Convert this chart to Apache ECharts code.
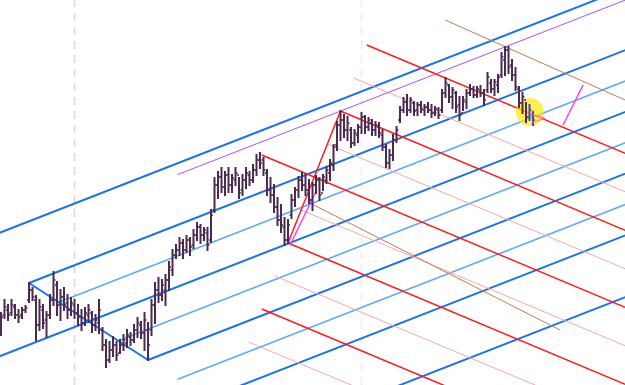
<!DOCTYPE html>
<html><head><meta charset="utf-8">
<script src="https://cdn.jsdelivr.net/npm/echarts@6/dist/echarts.min.js"></script>
<style>html,body{margin:0;padding:0;background:#fff}#c{width:625px;height:385px}</style>
</head><body><div id="c"></div>
<script>
// OHLC bars (bar index = position, prices in chart units)
const opens = [60,70,75,72,78,70,70,75,85,95,85,60,75,65,70,85,100,80,88,82,75,80,72,68,62,70,72,60,62,55,40,25,35,40,32,40,42,48,45,55,60,52,55,55,80,95,90,95,105,115,130,135,142,135,145,140,150,158,150,152,145,175,200,208,198,210,200,205,210,195,205,210,205,215,225,225,212,195,190,178,165,158,145,170,185,195,205,200,195,185,200,205,192,205,212,220,240,260,265,255,255,242,250,258,268,258,262,255,258,250,238,222,230,245,265,275,283,275,282,275,280,275,278,275,272,275,275,292,300,288,292,280,272,283,292,296,290,295,292,295,302,296,300,310,325,335,320,310,296,282,285,268,270];
const closes = [68,78,70,80,70,68,75,77,95,88,60,78,62,70,85,105,80,88,80,75,82,72,68,62,72,75,60,65,75,40,25,35,40,30,40,45,50,45,55,62,52,65,40,80,95,90,100,105,118,130,135,142,135,145,138,150,158,150,155,140,170,200,208,198,210,200,207,212,192,205,212,205,215,225,222,215,195,190,178,165,160,145,160,185,195,205,200,195,185,200,205,190,208,215,222,238,260,265,255,262,242,252,258,268,258,265,255,260,252,238,222,230,245,255,275,283,275,285,274,280,276,278,275,272,276,270,292,302,288,295,278,270,285,292,296,290,296,292,285,308,296,303,308,328,335,318,310,298,282,288,268,275,265];
const lows = [50,67,65,70,67,63,67,73,83,85,45,55,57,48,67,80,70,65,75,67,70,67,60,55,60,63,53,55,52,35,18,23,29,25,32,35,38,40,43,48,47,35,25,50,62,83,85,80,95,110,127,130,127,133,130,137,145,142,145,135,143,173,187,193,190,193,193,200,187,190,197,200,203,210,217,210,190,183,173,160,153,140,142,167,179,188,195,190,182,175,192,185,195,202,205,215,235,245,248,245,238,240,243,252,252,255,250,250,248,235,218,217,225,243,263,273,270,273,270,270,273,270,273,268,270,267,273,288,283,277,273,265,275,277,290,288,288,289,280,293,293,290,293,308,310,312,305,295,278,272,263,265,260];
const highs = [72,85,80,85,80,75,77,79,102,97,89,85,80,73,90,113,103,95,97,90,87,85,80,75,77,80,73,70,85,57,45,43,48,43,45,50,55,52,60,67,63,72,62,85,102,107,105,110,123,135,140,147,145,149,147,155,162,160,157,157,175,207,213,217,213,217,210,217,207,210,217,213,220,230,232,227,215,207,200,187,180,167,165,190,197,208,212,210,205,202,209,207,210,218,225,240,263,274,270,268,257,255,260,272,269,267,265,263,262,255,240,235,250,258,278,287,290,287,283,282,283,280,282,280,278,277,295,307,300,297,293,288,288,295,300,298,298,299,295,312,305,305,310,332,338,338,325,317,298,292,282,280,273];

// pitchfork pivot points [bar index, price]
const blueFork = [[-20, 2], [8, 102], [42, 25]];
const redFork = [[74.5, 230], [82, 142], [97, 274]];
const blueLevels = [2, 1, 0.5, 0, -0.5, -1, -1.5, -2, -3];
const redLevels = [-2, -1.5, -1, -0.5, 0, 0.5, 1, 1.5, 2, 2.5];

// other drawn lines [[bar,price],[bar,price]]
const purpleLine = [[50.5, 210.5], [185, 394]];
const brownLines = [[[87.7, 183], [159.7, 55]], [[126.9, 365], [178.3, 285]]];
const magentaLines = [[[82.6, 140], [90.2, 195]], [[160.6, 260], [166.3, 300]]];
const pinkMarks = [[[151.1, 271], [155.4, 267]], [[151.5, 262], [155.4, 267]]];
const markerLines = [[21, '#d6d6d6'], [103, '#ececec']];
const highlight = [151.1, 273];

const XMIN = -1/3.5, XMAX = 624/3.5, XEND = 200;

function fork(P, levels, colFull, colHalf, wFull, wHalf) {
  const [A, B, C] = P;
  const M = [(B[0]+C[0])/2, (B[1]+C[1])/2];
  const s = (M[1]-A[1])/(M[0]-A[0]);
  const half = B[1] - (M[1] + s*(B[0]-M[0]));
  const bc = (C[1]-B[1])/(C[0]-B[0]);
  const out = [];
  levels.forEach(f => {
    const off = f*half;
    let x0;
    if (f === 0) x0 = A[0];
    else x0 = (B[1] - bc*B[0] - M[1] + s*M[0] - off)/(s - bc);
    const y0 = M[1] + s*(x0-M[0]) + off;
    const y1 = M[1] + s*(XEND-M[0]) + off;
    const full = Number.isInteger(f);
    out.push(seg([[x0,y0],[XEND,y1]], full ? colFull : colHalf, full ? wFull : wHalf));
  });
  out.push(seg([B, C], colFull, wFull));
  return out;
}
function seg(d, color, w, type, z) {
  return {type:'line', data:d, symbol:'none', silent:true, z:z||2, animation:false,
    lineStyle:{color:color, width:w, type:type||'solid'}};
}

const series = [];
markerLines.forEach(m => series.push(seg([[m[0],0],[m[0],385]], m[1], 1.5, [8,6])));
series.push(...fork(blueFork, blueLevels, '#1a73e8', '#5eaaf7', 2, 1.5));
series.push(...fork(redFork, redLevels, '#ff1a1a', '#f5a8a8', 1.5, 1));
series.push(seg(purpleLine, '#a650f0', 1));
brownLines.forEach(l => series.push(seg(l, '#c47a4c', 1)));
magentaLines.forEach(l => series.push(seg(l, '#ff3cff', 1.5)));
series.push({type:'scatter', data:[highlight], symbolSize:28, z:3, silent:true,
  itemStyle:{color:'rgba(255,230,0,0.85)'}, animation:false});
pinkMarks.forEach(l => series.push(seg(l, '#ff66cc', 1, 'solid', 6)));

const ohlc = opens.map((o,i) => [i, o, closes[i], lows[i], highs[i]]);
series.push({
  type:'custom', z:5, animation:false, data: ohlc, encode:{x:0, y:[1,2,3,4]},
  renderItem(params, api) {
    const x = api.value(0);
    const o = api.coord([x, api.value(1)]);
    const c = api.coord([x, api.value(2)]);
    const l = api.coord([x, api.value(3)]);
    const h = api.coord([x, api.value(4)]);
    const col = params.dataIndex >= ohlc.length - 2 ? '#3a4fb0' : '#4b2a50';
    const st = {stroke:col, lineWidth:2};
    return {type:'group', children:[
      {type:'line', shape:{x1:h[0], y1:h[1]-1, x2:l[0], y2:l[1]+1}, style:st},
      {type:'line', shape:{x1:o[0]-2, y1:o[1], x2:o[0], y2:o[1]}, style:{stroke:col, lineWidth:1.5}},
      {type:'line', shape:{x1:c[0], y1:c[1], x2:c[0]+2, y2:c[1]}, style:{stroke:col, lineWidth:1.5}}
    ]};
  }
});

const chart = echarts.init(document.getElementById('c'));
chart.setOption({
  animation:false,
  grid:{left:0, right:0, top:0, bottom:0},
  xAxis:{type:'value', min:XMIN, max:XMAX, show:false},
  yAxis:{type:'value', min:0, max:385, show:false},
  series: series
});
</script></body></html>
